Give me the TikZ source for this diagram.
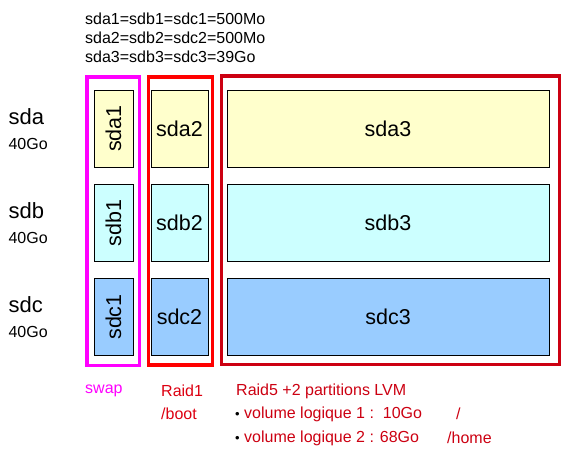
\documentclass[tikz,border=0pt]{standalone}
\usepackage{fontspec}
\setmainfont{Liberation Sans}
\usepackage{xcolor}
\usepackage{tikz}
\usetikzlibrary{positioning}
\definecolor{PartYellow}{RGB}{255, 255, 204}
\definecolor{PartCyan}{RGB}{204, 255, 255}
\definecolor{PartBlue}{RGB}{153, 204, 255}
\definecolor{SwapMagenta}{RGB}{255, 0, 255}
\definecolor{RaidRed}{RGB}{255, 0, 0}
\definecolor{RaidDark}{RGB}{204, 0, 17}
\definecolor{NoteRed}{RGB}{221, 0, 17}

\tikzset{
  partbox/.style={draw=black, line width=0.8pt, inner sep=0pt, minimum height=77,
    font=\fontsize{21.5}{24}\selectfont},
  grpbox/.style={line width=3.5pt},
  disklbl/.style={anchor=west, font=\fontsize{22}{25}\selectfont},
  sizelbl/.style={anchor=west, font=\fontsize{16}{18}\selectfont},
  note/.style={anchor=west, inner sep=0pt, font=\fontsize{16}{18}\selectfont}
}

\begin{document}
\begin{tikzpicture}[x=1pt,y=-1pt]
  \path[use as bounding box] (0,0) rectangle (568,456);

  % sizes on top
  \node[note] (info1) at (85,19) {sda1=sdb1=sdc1=500Mo};
  \node[note] (info2) at (85,38) {sda2=sdb2=sdc2=500Mo};
  \node[note] (info3) at (85,57) {sda3=sdb3=sdc3=39Go};

  % disks and partitions
  \foreach \d/\y/\c in {a/128.5/PartYellow,b/223/PartCyan,c/317/PartBlue}{
    \node[disklbl] (sd\d) at (5,\y-12) {sd\d};
    \node[sizelbl] (sz\d) at (5,\y+15) {40Go};
    \node[partbox, fill=\c, minimum width=39] (sd\d1) at (113.5,\y) {\rotatebox{90}{sd\d1}};
    \node[partbox, fill=\c, minimum width=57] (sd\d2) at (179.5,\y) {sd\d2};
    \node[partbox, fill=\c, minimum width=322] (sd\d3) at (388,\y) {sd\d3};
  }

  % groups
  \draw[grpbox, SwapMagenta] (87,77) rectangle (139.3,365.6);
  \draw[grpbox, RaidRed] (148.3,77) rectangle (212.6,365);
  \draw[grpbox, RaidDark] (221.7,76) rectangle (559.3,364.5);

  % legends
  \node[note, text=SwapMagenta] (swap) at (85,391) {swap};
  \node[note, text=NoteRed] (raid1) at (161,391) {Raid1};
  \node[note, text=NoteRed] (boot) at (161,414) {/boot};
  \node[note, text=RaidDark] (raid5) at (236,391) {Raid5 +2 partitions LVM};
  \node[note, text=RaidDark] (lv1) at (235,414) {{\color{black}\fontsize{13}{14}\selectfont•} volume logique 1 :\ \ 10Go};
  \node[note, text=RaidDark] (lv2) at (235,438) {{\color{black}\fontsize{13}{14}\selectfont•} volume logique 2 : 68Go};
  \node[note, text=RaidDark] (mnt1) at (456,414) {/};
  \node[note, text=RaidDark] (mnt2) at (447,438) {/home};
\end{tikzpicture}
\end{document}
